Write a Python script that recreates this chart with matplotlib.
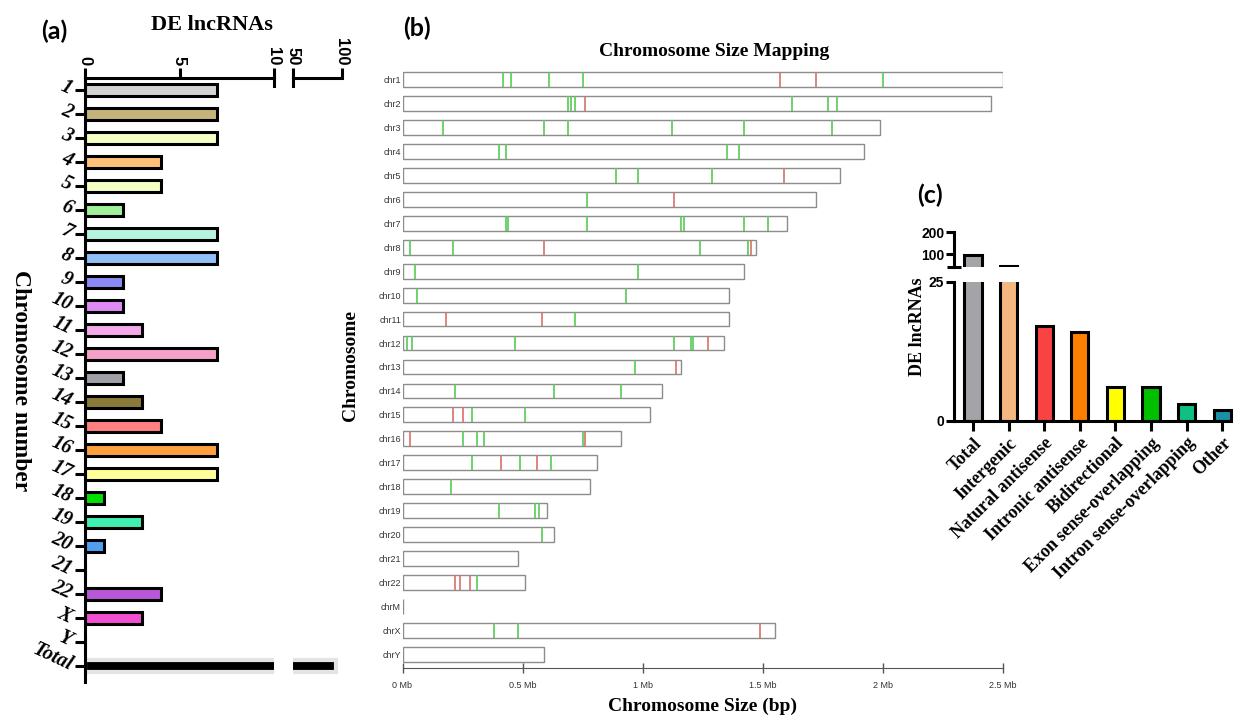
import numpy as np
import matplotlib.pyplot as plt

# ---- panel (a): DE lncRNAs per chromosome
chrom_labels = [str(i) for i in range(1, 23)] + ['X', 'Y', 'Total']
chrom_counts = [7, 7, 7, 4, 4, 2, 7, 7, 2, 2, 3, 7, 2, 3, 4, 7, 7, 1, 3, 1, 0, 4, 3, 0, 94]
chrom_colors = ['#d3d3d3', '#c4b47c', '#f3ffc3', '#ffc07a', '#f3ffc3', '#a0f09a',
                '#b5f5df', '#90c0f5', '#8a8af5', '#e08af5', '#f5a8e8', '#f5a0c8',
                '#a0a0a8', '#8a7a3a', '#ff8080', '#ffa040', '#ffff99', '#00e000',
                '#40f0b0', '#50a0f0', '#ffffff', '#b858d8', '#f050d0', '#ffffff', 'black']

# ---- panel (b): chromosome size mapping (sizes as labelled on the axis, "Mb")
chr_names = ['chr%d' % i for i in range(1, 23)] + ['chrM', 'chrX', 'chrY']
chr_sizes = [2.50, 2.45, 1.99, 1.92, 1.82, 1.72, 1.60, 1.47, 1.42, 1.36, 1.36, 1.34,
             1.16, 1.08, 1.03, 0.91, 0.81, 0.78, 0.60, 0.63, 0.48, 0.51, 0.0, 1.55, 0.59]
green_sites = [[0.42, 0.45, 0.61, 0.75, 2.00], [0.69, 0.70, 0.72, 1.62, 1.77, 1.81],
               [0.17, 0.59, 0.69, 1.12, 1.42, 1.79], [0.40, 0.43, 1.35, 1.40],
               [0.89, 0.98, 1.29], [0.77], [0.43, 0.44, 0.77, 1.16, 1.17, 1.42, 1.52],
               [0.03, 0.21, 1.24, 1.44], [0.05, 0.98], [0.06, 0.93], [0.72],
               [0.02, 0.04, 0.47, 1.13, 1.20, 1.21], [0.97], [0.22, 0.63, 0.91],
               [0.29, 0.51], [0.25, 0.31, 0.34, 0.75], [0.29, 0.49, 0.62], [0.20],
               [0.40, 0.55, 0.57], [0.58], [], [0.31], [], [0.38, 0.48], []]
red_sites = [[1.57, 1.72], [0.76], [], [], [1.59], [1.13], [], [0.59, 1.45], [], [],
             [0.18, 0.58], [1.27], [1.14], [], [0.21, 0.25], [0.03, 0.76], [0.41, 0.56],
             [], [], [], [], [0.22, 0.24, 0.28], [], [1.49], []]
size_ticks = [0, 0.5, 1, 1.5, 2, 2.5]
size_ticklabels = ['0 Mb', '0.5 Mb', '1 Mb', '1.5 Mb', '2 Mb', '2.5 Mb']

# ---- panel (c): lncRNA classes
class_names = ['Total', 'Intergenic', 'Natural antisense', 'Intronic antisense',
               'Bidirectional', 'Exon sense-overlapping', 'Intron sense-overlapping', 'Other']
class_counts = [94, 44, 17, 16, 6, 6, 3, 2]
class_colors = ['#a3a3a8', '#f2b880', '#f94343', '#ff8000', '#ffff00', '#00c000',
                '#10c080', '#1a8fa8']

SERIF = 'Liberation Serif'
SANS = 'Liberation Sans'
W, H = 1233, 717
fig = plt.figure(figsize=(W / 100, H / 100), dpi=100)


def px_axes(left, top, right, bottom):
    # axes placed by pixel edges of the 1233x717 canvas
    return fig.add_axes([left / W, 1 - bottom / H, (right - left) / W, (bottom - top) / H])


# ================= (a)
ypos = np.arange(len(chrom_labels))
edge_cols = ['black'] * (len(chrom_labels) - 1) + ['#e4e4e4']
edge_lws = [2.2] * (len(chrom_labels) - 1) + [3.0]

ax_a = px_axes(85, 78, 274, 682)
ax_a2 = px_axes(293.3, 78, 341.7, 682)
for ax in (ax_a, ax_a2):
    ax.barh(ypos, chrom_counts, height=0.48, color=chrom_colors,
            edgecolor=edge_cols, linewidth=edge_lws)
    ax.set_ylim(24.67, -0.5)
    ax.xaxis.tick_top()
    for s in ('right', 'bottom'):
        ax.spines[s].set_visible(False)
    ax.spines['top'].set_linewidth(2.2)
    ax.tick_params(axis='x', width=2.2, length=7, pad=2)
ax_a.set_xlim(0, 10)
ax_a.set_xticks([0, 5, 10])
ax_a.set_xticklabels(['0', '5', '10'], rotation=270, fontsize=12,
                     fontweight='bold', fontfamily=SANS)
ax_a.spines['left'].set_linewidth(2.2)
ax_a.set_yticks(ypos)
ax_a.set_yticklabels(chrom_labels, fontsize=14.5, fontstyle='italic', fontweight='bold',
                     fontfamily=SERIF, rotation=-25, ha='right', va='center',
                     rotation_mode='anchor')
ax_a.tick_params(axis='y', width=2.2, length=7, pad=3)
ax_a.axvline(10, ymin=0.986, ymax=1.0, color='black', lw=2.2, clip_on=False)

ax_a2.set_xlim(50, 100)
ax_a2.set_xticks([50, 100])
ax_a2.set_xticklabels(['50', '100'], rotation=270, fontsize=12,
                      fontweight='bold', fontfamily=SANS)
ax_a2.spines['left'].set_visible(False)
ax_a2.set_yticks([])
ax_a2.axvline(50, ymin=0.986, ymax=1.0, color='black', lw=2.2, clip_on=False)

fig.text(212 / W, 1 - 25 / H, 'DE lncRNAs', fontsize=16, fontweight='bold',
         fontfamily=SERIF, ha='center', va='center')
fig.text(20 / W, 1 - 381 / H, 'Chromosome number', fontsize=17, fontweight='bold',
         fontfamily=SERIF, rotation=270, ha='center', va='center')
fig.text(54 / W, 1 - 31 / H, '(a)', fontsize=18, fontweight='bold', fontfamily='Lato',
         ha='center', va='center')

# ================= (b)
rows = np.arange(len(chr_names))
bar_h = 0.62
ax_b = px_axes(402.5, 60, 1003, 668)
ax_b.barh(rows, chr_sizes, height=bar_h, color='white', edgecolor='#8c8c8c', linewidth=1.0)
for i in rows:
    ax_b.vlines(green_sites[i], i - bar_h / 2, i + bar_h / 2, color='#55cc55', lw=1.2)
    ax_b.vlines(red_sites[i], i - bar_h / 2, i + bar_h / 2, color='#d9706b', lw=1.2)
ax_b.set_xlim(0, 2.5)
ax_b.set_ylim(24.56, -0.81)
ax_b.set_yticks(rows)
ax_b.set_yticklabels(chr_names, fontsize=6.5, color='#333333', fontfamily=SANS)
ax_b.tick_params(axis='y', length=0, pad=1)
ax_b.set_xticks(size_ticks)
ax_b.set_xticklabels(size_ticklabels, fontsize=6.5, color='#333333', fontfamily=SANS)
ax_b.tick_params(axis='x', direction='inout', length=7, width=1, color='#555555', pad=6)
for s in ('left', 'top', 'right'):
    ax_b.spines[s].set_visible(False)
ax_b.spines['bottom'].set_color('#555555')

fig.text(714 / W, 1 - 52 / H, 'Chromosome Size Mapping', fontsize=14, fontweight='bold',
         fontfamily=SERIF, ha='center', va='center')
fig.text(703 / W, 1 - 706 / H, 'Chromosome Size (bp)', fontsize=14, fontweight='bold',
         fontfamily=SERIF, ha='center', va='center')
fig.text(351 / W, 1 - 365 / H, 'Chromosome', fontsize=14, fontweight='bold',
         fontfamily=SERIF, rotation=90, ha='center', va='center')
fig.text(417 / W, 1 - 28 / H, '(b)', fontsize=18, fontweight='bold', fontfamily='Lato',
         ha='center', va='center')

# ================= (c)
xc = np.arange(len(class_names))
ax_c = px_axes(954, 281.7, 1243.6, 420.7)
ax_ct = px_axes(954, 232, 1243.6, 267)
for ax in (ax_c, ax_ct):
    ax.bar(xc, class_counts, width=0.48, color=class_colors, edgecolor='black', linewidth=2.2)
    ax.set_xlim(-0.534, 7.6)
    for s in ('top', 'right'):
        ax.spines[s].set_visible(False)
    ax.spines['left'].set_linewidth(2.2)
    ax.tick_params(axis='y', width=2.2, length=6, pad=1)
ax_c.set_ylim(0, 25)
ax_c.set_yticks([0, 25])
ax_c.set_yticklabels(['0', '25'], fontsize=10, fontweight='bold', fontfamily=SANS)
ax_c.spines['bottom'].set_linewidth(2.2)
ax_c.set_xticks(xc)
ax_c.set_xticklabels(class_names, rotation=45, ha='right', rotation_mode='anchor',
                     fontsize=13, fontweight='bold', fontfamily=SERIF)
ax_c.tick_params(axis='x', width=2.2, length=7, pad=3)

ax_ct.set_ylim(41, 200)
ax_ct.set_yticks([100, 200])
ax_ct.set_yticklabels(['100', '200'], fontsize=10, fontweight='bold', fontfamily=SANS)
ax_ct.set_yticks([41], minor=True)
ax_ct.tick_params(axis='y', which='minor', direction='inout', width=2.2, length=10)
ax_ct.spines['bottom'].set_visible(False)
ax_ct.set_xticks([])

fig.text(918 / W, 1 - 327 / H, 'DE lncRNAs', fontsize=13, fontweight='bold',
         fontfamily=SERIF, rotation=90, ha='center', va='center')
fig.text(930 / W, 1 - 195 / H, '(c)', fontsize=18, fontweight='bold', fontfamily='Lato',
         ha='center', va='center')

plt.savefig('out.png', dpi=100)
